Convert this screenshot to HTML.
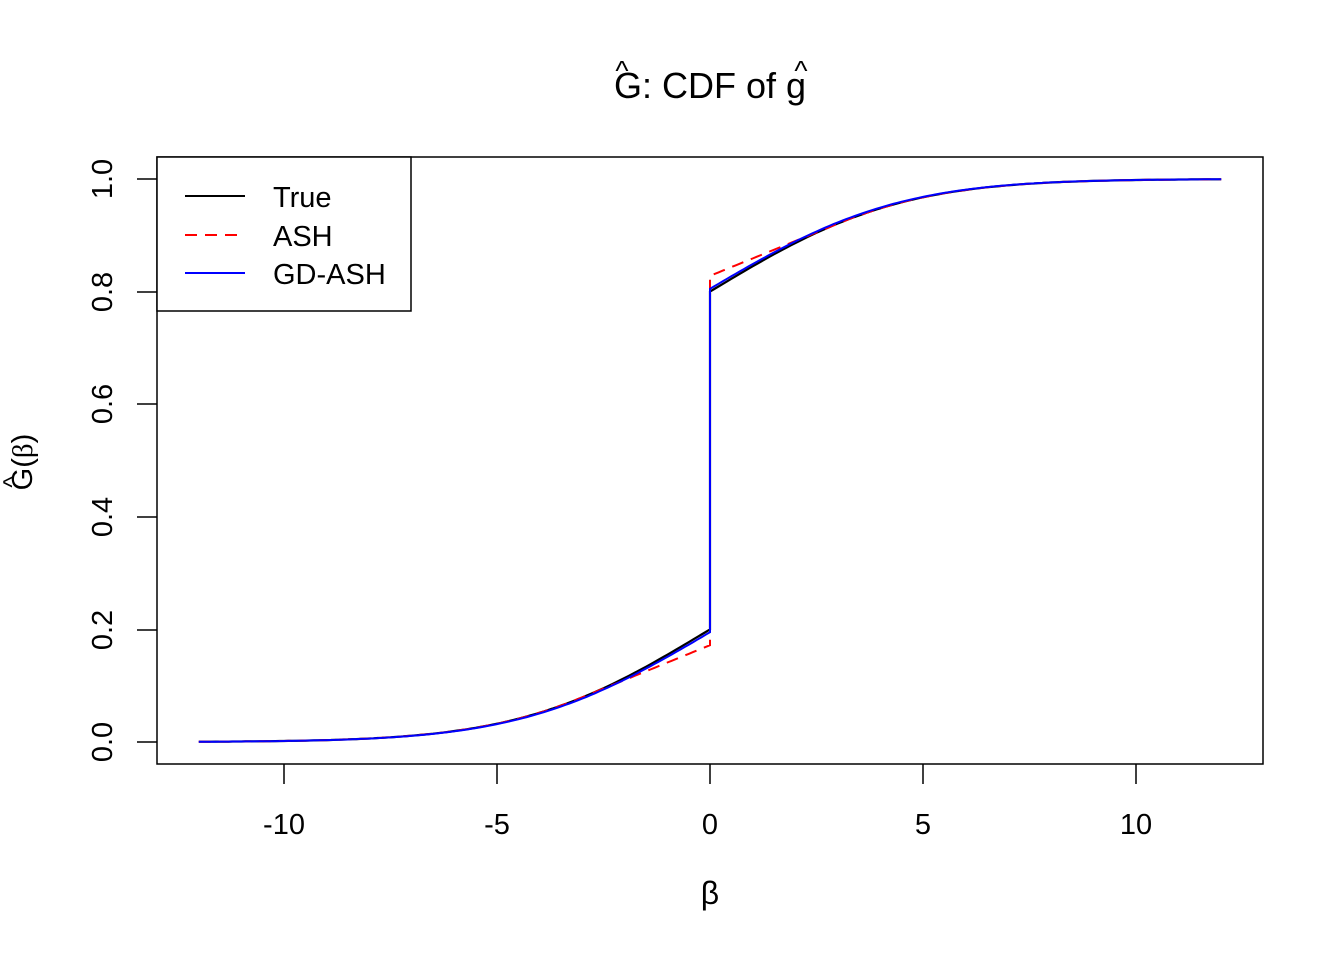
<!DOCTYPE html>
<html><head><meta charset="utf-8"><style>
body{margin:0;background:#fff;}
text{font-family:"Liberation Sans",sans-serif;}
</style></head><body>
<svg id="s" width="1344" height="960" xmlns="http://www.w3.org/2000/svg">
<rect width="1344" height="960" fill="#fff"/>
<text x="710" y="98" font-size="36" text-anchor="middle">G: CDF of g</text>
<text x="622" y="80" font-size="28" text-anchor="middle">^</text>
<text x="801" y="80" font-size="28" text-anchor="middle">^</text>
<rect x="157" y="157" width="1106" height="607" fill="none" stroke="#000" stroke-width="1.5"/>
<g stroke="#000" stroke-width="1.5">
<line x1="284" y1="764" x2="284" y2="784"/><line x1="497" y1="764" x2="497" y2="784"/>
<line x1="710" y1="764" x2="710" y2="784"/><line x1="923" y1="764" x2="923" y2="784"/>
<line x1="1136" y1="764" x2="1136" y2="784"/>
<line x1="137" y1="742" x2="157" y2="742"/><line x1="137" y1="630" x2="157" y2="630"/>
<line x1="137" y1="517" x2="157" y2="517"/><line x1="137" y1="404" x2="157" y2="404"/>
<line x1="137" y1="292" x2="157" y2="292"/><line x1="137" y1="179" x2="157" y2="179"/>
</g>
<g font-size="29" text-anchor="middle">
<text x="284" y="834">-10</text><text x="497" y="834">-5</text><text x="710" y="834">0</text>
<text x="923" y="834">5</text><text x="1136" y="834">10</text>
<text transform="translate(112,742) rotate(-90)">0.0</text>
<text transform="translate(112,630) rotate(-90)">0.2</text>
<text transform="translate(112,517) rotate(-90)">0.4</text>
<text transform="translate(112,404) rotate(-90)">0.6</text>
<text transform="translate(112,292) rotate(-90)">0.8</text>
<text transform="translate(112,179) rotate(-90)">1.0</text>
<text x="710" y="904" font-family="Liberation Serif" font-size="32">β</text>
<text transform="translate(32,462) rotate(-90)">G(<tspan font-family="Liberation Serif">β</tspan>)</text>
<text transform="translate(20,482) rotate(-90)" font-size="24">^</text>
</g>
<path id="t" fill="none" stroke="#000" stroke-width="2.2"/>
<path id="a" fill="none" stroke="#f00" stroke-width="2" stroke-dasharray="12,8"/>
<path id="b" fill="none" stroke="#00f" stroke-width="2"/>
<rect x="157" y="157" width="254" height="154" fill="#fff" stroke="#000" stroke-width="1.5"/>
<line x1="185" y1="196" x2="245" y2="196" stroke="#000" stroke-width="2"/>
<line x1="185" y1="235" x2="245" y2="235" stroke="#f00" stroke-width="2" stroke-dasharray="12,8"/>
<line x1="185" y1="273" x2="245" y2="273" stroke="#00f" stroke-width="2"/>
<g font-size="29"><text x="273" y="207">True</text><text x="273" y="246">ASH</text><text x="273" y="284">GD-ASH</text></g>
</svg>
<script>
function erf(x){var s=x<0?-1:1;x=Math.abs(x);var t=1/(1+0.3275911*x);var y=1-(((((1.061405429*t-1.453152027)*t)+1.421413741)*t-0.284496736)*t+0.254829592)*t*Math.exp(-x*x);return s*y;}
function Phi(z){return 0.5*(1+erf(z/Math.SQRT2));}
function F(b){return 0.7*Phi(b/3.2)+0.3*Phi(b/4.5);}
function X(b){return 710+42.6*b;} function Y(g){return 742-563*g;}
function path(f){var d="";for(var b=-12;b<0;b+=0.1){d+=(d?"L":"M")+X(b).toFixed(1)+","+Y(f(b,-1)).toFixed(1);}
d+="L710,"+Y(f(0,-1)).toFixed(1)+"L710,"+Y(f(0,1)).toFixed(1);
for(var b=0.1;b<=12.001;b+=0.1){d+="L"+X(b).toFixed(1)+","+Y(f(b,1)).toFixed(1);}return d;}
document.getElementById("t").setAttribute("d",path(function(b,s){return (b<0||s<0)?0.4*F(b):0.6+0.4*F(b);}));
document.getElementById("b").setAttribute("d",path(function(b,s){var v=0.39*F(b);return (b<0||s<0)?v:0.61+v;}));
document.getElementById("a").setAttribute("d",path(function(b,s){var c=3.3,t0=0.4*F(-c);
if(b<0||s<0){if(b<-c)return 0.4*F(b);return t0+(0.172-t0)*(b+c)/c;}
if(b>c)return 0.6+0.4*F(b);return 0.828+(1-t0-0.828)*b/c;}));
</script>
</body></html>
